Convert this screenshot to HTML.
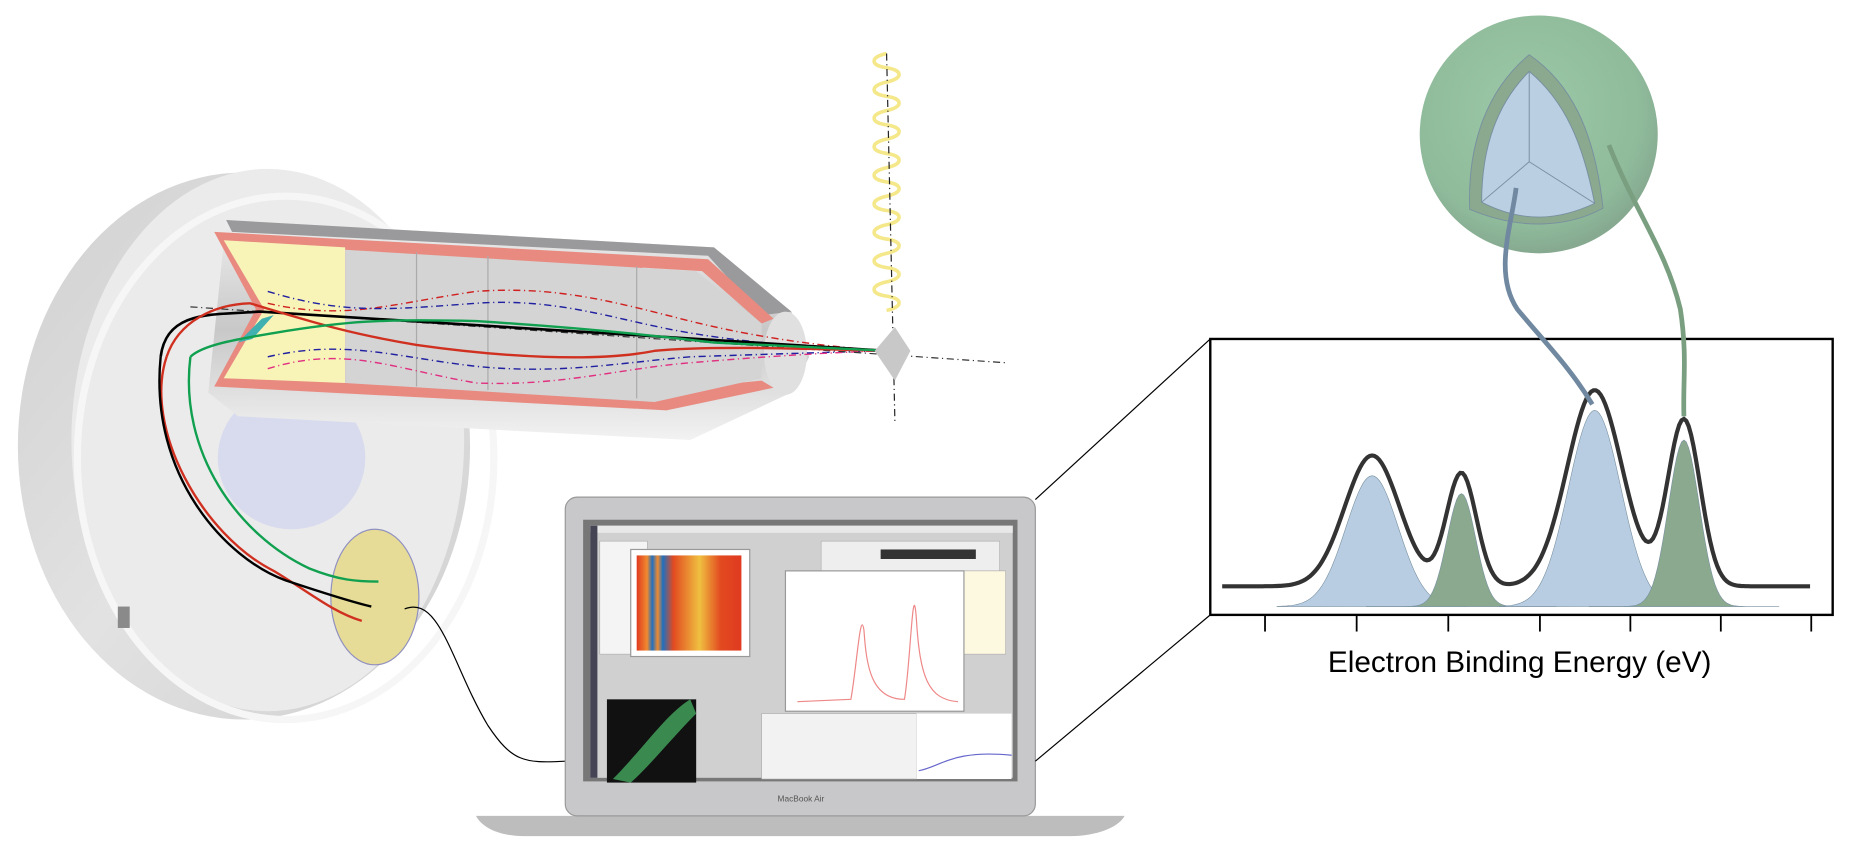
<!DOCTYPE html>
<html><head><meta charset="utf-8"><style>
html,body{margin:0;padding:0;background:#fff;}
svg{display:block;}
</style></head><body>
<svg width="1866" height="848" viewBox="0 0 1568 713" preserveAspectRatio="none" xmlns="http://www.w3.org/2000/svg">
<defs>
<radialGradient id="sph" cx="0.45" cy="0.4" r="0.6"><stop offset="0" stop-color="#9cc9a8"/><stop offset="0.8" stop-color="#8fbb9b"/><stop offset="1" stop-color="#86a990"/></radialGradient>
<linearGradient id="disk" x1="0" y1="0" x2="1" y2="1"><stop offset="0" stop-color="#d0d0d0"/><stop offset="0.5" stop-color="#e2e2e2"/><stop offset="1" stop-color="#cfcfcf"/></linearGradient>
<linearGradient id="tube" x1="0" y1="0" x2="0" y2="1"><stop offset="0" stop-color="#eeeeee"/><stop offset="0.5" stop-color="#c8c8c8"/><stop offset="1" stop-color="#f2f2f2"/></linearGradient>
<linearGradient id="spec" x1="0" y1="0" x2="1" y2="0"><stop offset="0" stop-color="#e03a20"/><stop offset="0.1" stop-color="#f08a30"/><stop offset="0.15" stop-color="#2070c0"/><stop offset="0.2" stop-color="#f08a30"/><stop offset="0.25" stop-color="#2070c0"/><stop offset="0.35" stop-color="#e24a20"/><stop offset="0.6" stop-color="#f0c040"/><stop offset="0.8" stop-color="#e24a20"/><stop offset="1" stop-color="#e03a20"/></linearGradient>
</defs>
<!-- big disk -->
<ellipse cx="205" cy="375" rx="190" ry="230" fill="url(#disk)"/>
<ellipse cx="225" cy="370" rx="165" ry="228" fill="#ebebeb"/>
<ellipse cx="240" cy="385" rx="175" ry="220" fill="none" stroke="#f6f6f6" stroke-width="6"/>
<ellipse cx="245" cy="385" rx="62" ry="60" fill="#d8dbee"/>
<rect x="99" y="510" width="10" height="18" fill="#8a8a8a"/>
<!-- tube -->
<polygon points="190,185 600,208 665,262 680,300 665,330 580,370 200,350 175,330" fill="url(#tube)"/>
<polygon points="190,185 600,208 665,262 640,265 595,215 195,195" fill="#9a9a9c"/>
<ellipse cx="660" cy="297" rx="18" ry="35" fill="#e0e0e0"/>
<polygon points="180,195 595,218 650,268 640,272 590,228 540,225 540,330 640,320 650,326 560,345 180,325 215,260" fill="#e88a80"/>
<polygon points="188,202 290,208 290,322 188,318 222,260" fill="#f8f4b8"/>
<polygon points="290,210 585,228 640,272 640,318 550,338 290,322" fill="#d4d4d4"/>
<line x1="350" y1="212" x2="350" y2="325" stroke="#aaa"/><line x1="410" y1="215" x2="410" y2="328" stroke="#aaa"/><line x1="535" y1="224" x2="535" y2="335" stroke="#aaa"/>
<path d="M200,288 L212,285 L230,265 L220,268Z" fill="#40b0b0"/>
<!-- trajectories -->
<path d="M225,255 C290,270 330,255 400,245 C470,240 520,255 580,270 C640,285 700,292 745,295" fill="none" stroke="#d02020" stroke-dasharray="6,3,1,3" stroke-width="1.2"/>
<path d="M225,245 C290,265 330,260 400,255 C470,250 520,270 580,280 C640,290 700,293 745,295" fill="none" stroke="#2020a0" stroke-dasharray="6,3,1,3" stroke-width="1.2"/>
<path d="M225,300 C290,285 330,300 400,308 C470,315 520,305 580,300 C640,298 700,296 745,295" fill="none" stroke="#2020a0" stroke-dasharray="6,3,1,3" stroke-width="1.2"/>
<path d="M225,310 C290,290 330,310 400,322 C470,325 520,310 580,305 C640,300 700,296 745,295" fill="none" stroke="#e03080" stroke-dasharray="6,3,1,3" stroke-width="1.2"/>
<line x1="160" y1="258" x2="845" y2="305" stroke="#333" stroke-dasharray="6,3,1,3"/>
<path d="M135,300 C140,260 180,265 218,262 L745,295" fill="none" stroke="#000" stroke-width="2.2"/>
<path d="M140,300 C150,270 180,256 210,255 C260,270 290,280 350,290 C420,300 500,305 550,295 C600,290 700,294 745,295" fill="none" stroke="#d03020" stroke-width="2"/>
<path d="M160,300 C170,290 200,285 230,280 C290,270 320,268 400,270 C480,275 550,282 600,288 L745,295" fill="none" stroke="#10a050" stroke-width="2"/>
<!-- wires down -->
<ellipse cx="315" cy="502" rx="37" ry="57" fill="#e6dc98" stroke="#9090c0"/>
<path d="M140,300 C120,360 170,450 230,480 C260,498 280,515 304,522" fill="none" stroke="#d03020" stroke-width="2"/>
<path d="M135,300 C125,400 190,470 240,488 C270,498 295,506 312,510" fill="none" stroke="#000" stroke-width="2"/>
<path d="M160,300 C150,380 200,450 260,478 C285,488 300,489 318,489" fill="none" stroke="#10a050" stroke-width="2"/>
<path d="M340,512 C370,500 380,560 410,610 C430,640 440,642 475,640" fill="none" stroke="#000" stroke-width="1"/>
<!-- spiral -->
<g fill="none" stroke="#f5e88a" stroke-width="3">
<path d="M745,45 c-14,3 -14,10 0,12 c14,2 14,9 0,12 c-14,3 -14,10 0,12 c14,2 14,9 0,12 c-14,3 -14,10 0,12 c14,2 14,9 0,12 c-14,3 -14,10 0,12 c14,2 14,9 0,12 c-14,3 -14,10 0,12 c14,2 14,9 0,12 c-14,3 -14,10 0,12 c14,2 14,9 0,12 c-14,3 -14,10 0,12 c14,2 14,9 0,12 c-14,3 -14,10 0,12 c14,2 14,9 0,12 c-14,3 -14,10 0,12 c14,2 14,9 0,12"/>
</g>
<line x1="745" y1="45" x2="752" y2="355" stroke="#222" stroke-dasharray="6,3,1,3"/>
<polygon points="735,295 752,275 765,295 752,320" fill="#c8c8c8"/>
<!-- laptop -->
<path d="M400,686 L945,686 C940,696 920,703 900,703 L440,703 C420,703 405,696 400,686Z" fill="#bdbdbd"/>
<rect x="475" y="418" width="395" height="268" rx="10" fill="#c8c8ca" stroke="#999"/>
<rect x="490" y="437" width="365" height="220" fill="#777"/>
<rect x="496" y="442" width="355" height="212" fill="#d0d0d0"/>
<rect x="496" y="442" width="355" height="6" fill="#e8e8e8"/>
<rect x="496" y="442" width="6" height="212" fill="#445"/>
<rect x="504" y="455" width="40" height="95" fill="#f4f4f4" stroke="#aaa" stroke-width="0.5"/>
<rect x="640" y="600" width="130" height="55" fill="#f2f2f2" stroke="#aaa" stroke-width="0.5"/>
<rect x="690" y="455" width="150" height="25" fill="#eee" stroke="#aaa" stroke-width="0.5"/>
<rect x="740" y="462" width="80" height="8" fill="#333"/>
<rect x="530" y="462" width="100" height="90" fill="#fff" stroke="#999"/>
<rect x="535" y="467" width="88" height="80" fill="url(#spec)"/>
<rect x="810" y="480" width="35" height="70" fill="#fdf8e0" stroke="#aaa" stroke-width="0.5"/>
<rect x="660" y="480" width="150" height="118" fill="#fff" stroke="#999"/>
<path d="M670,590 L715,588 C720,560 723,510 726,530 C728,560 732,588 760,588 C765,560 767,480 770,520 C773,570 780,588 805,590" fill="none" stroke="#e88" stroke-width="1"/>
<rect x="510" y="588" width="75" height="70" fill="#111"/>
<path d="M515,655 C540,630 560,600 580,588 L585,600 C565,620 545,645 530,658Z" fill="#3a8a50"/>
<rect x="770" y="600" width="80" height="55" fill="#fff"/>
<path d="M772,648 C790,645 800,630 850,635" stroke="#66c" fill="none"/>
<text x="673" y="674" font-family="Liberation Sans,sans-serif" font-size="7" fill="#555" text-anchor="middle">MacBook Air</text>
<!-- connector lines -->
<line x1="870" y1="420" x2="1017" y2="285" stroke="#000" stroke-width="1"/>
<line x1="870" y1="640" x2="1017" y2="517" stroke="#000" stroke-width="1"/>
<!-- chart -->
<rect x="1017" y="285" width="523" height="232" fill="#fff" stroke="#000" stroke-width="2"/>
<g stroke="#000" stroke-width="1.5">
<line x1="1063" y1="517" x2="1063" y2="531"/><line x1="1140" y1="517" x2="1140" y2="531"/><line x1="1217" y1="517" x2="1217" y2="531"/><line x1="1294" y1="517" x2="1294" y2="531"/><line x1="1370" y1="517" x2="1370" y2="531"/><line x1="1446" y1="517" x2="1446" y2="531"/><line x1="1522" y1="517" x2="1522" y2="531"/>
</g>
<g id="peaks"></g>
<text x="1277" y="565" font-family="Liberation Sans,sans-serif" font-size="25" fill="#000" text-anchor="middle">Electron Binding Energy (eV)</text>
<!-- sphere -->
<circle cx="1293" cy="113" r="100" fill="url(#sph)"/>
<path d="M1285,46 C1320,70 1340,110 1347,175 C1320,190 1280,195 1235,176 C1233,120 1250,75 1285,46Z" fill="#8aa98e" stroke="#7890a0" stroke-width="0.8"/>
<path d="M1285,60 C1315,85 1330,120 1340,171 C1310,185 1280,188 1245,170 C1245,120 1260,85 1285,60Z" fill="#bacfe2" stroke="#7890a0" stroke-width="0.8"/>
<path d="M1285,60 L1285,136 L1245,170 M1285,136 L1340,171" stroke="#7890a0" stroke-width="0.8" fill="none"/>
<path d="M1274,158 C1270,190 1255,230 1275,260 C1300,290 1320,310 1338,340" fill="none" stroke="#7088a0" stroke-width="4"/>
<path d="M1352,122 C1375,180 1400,210 1412,260 C1418,300 1414,320 1415,350" fill="none" stroke="#7a9f80" stroke-width="4"/>
</svg>
<script>
(function(){
var P=[[1153,22,1],[1228,12,0.8],[1340,22,1.4],[1415,13,1.25]];
function g(x,c,s){return Math.exp(-Math.pow(x-c,2)/(2*s*s));}
var ns="http://www.w3.org/2000/svg",G=document.getElementById('peaks');
var base=510,H=[110,95,165,140];
var cols=["#b8cde2","#8aa98e","#b8cde2","#8aa98e"];
P.forEach(function(p,i){var d="M"+(p[0]-80)+","+base;for(var x=p[0]-80;x<=p[0]+80;x+=2){d+=" L"+x+","+(base-H[i]*g(x,p[0],p[1])).toFixed(1);}d+=" Z";var e=document.createElementNS(ns,"path");e.setAttribute("d",d);e.setAttribute("fill",cols[i]);e.setAttribute("stroke","#7890a0");e.setAttribute("stroke-width","0.5");G.appendChild(e);});
var d="";for(var x=1027;x<=1522;x+=2){var y=0;P.forEach(function(p,i){y+=H[i]*g(x,p[0],p[1]*1.05);});d+=(x==1027?"M":" L")+x+","+(493-y).toFixed(1);}
var e=document.createElementNS(ns,"path");e.setAttribute("d",d);e.setAttribute("fill","none");e.setAttribute("stroke","#333");e.setAttribute("stroke-width","3.5");G.appendChild(e);
})();
</script>
</body></html>
